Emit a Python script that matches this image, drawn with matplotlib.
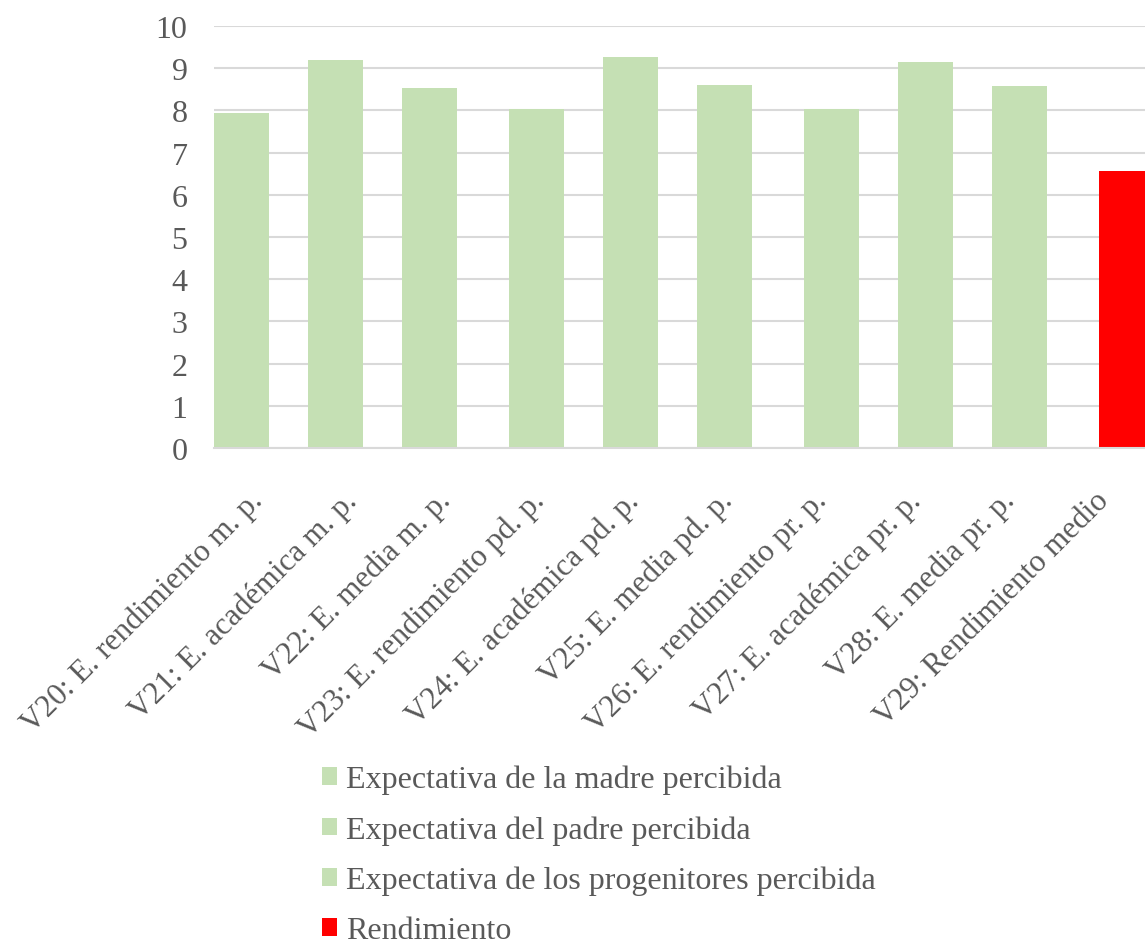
import matplotlib.pyplot as plt
import matplotlib.transforms as mtransforms
from matplotlib.patches import Patch

plt.rcParams['font.family'] = ['Liberation Serif', 'DejaVu Serif']

categorias = ['V20: E. rendimiento m. p.', 'V21: E. académica m. p.', 'V22: E. media m. p.',
              'V23: E. rendimiento pd. p.', 'V24: E. académica pd. p.', 'V25: E. media pd. p.',
              'V26: E. rendimiento pr. p.', 'V27: E. académica pr. p.', 'V28: E. media pr. p.',
              'V29: Rendimiento medio']
series = ['Expectativa de la madre percibida', 'Expectativa del padre percibida',
          'Expectativa de los progenitores percibida', 'Rendimiento']
# valor de cada categoria y la serie a la que pertenece
valores = [7.94, 9.20, 8.54, 8.04, 9.27, 8.61, 8.04, 9.15, 8.58, 6.57]
serie_de = [0, 0, 0, 1, 1, 1, 2, 2, 2, 3]
colores = ['#c5e0b4', '#c5e0b4', '#c5e0b4', '#ff0000']

gris = '#595959'
fig = plt.figure(figsize=(11.45, 9.45), dpi=100)
# el area de dibujo se sale un poco por la derecha
ax = fig.add_axes([214 / 1145, 496 / 945, 940 / 1145, 422 / 945])

ancho = 55 / 94
paso = 13 / 94
for i, (v, s) in enumerate(zip(valores, serie_de)):
    ax.bar(i + (s - 1.5) * paso, v, width=ancho, color=colores[s], zorder=2)

ax.set_xlim(-0.5, len(categorias) - 0.5)
ax.set_ylim(0, 10)
ax.set_yticks(range(0, 11))
ax.yaxis.grid(True, color='#d9d9d9', linewidth=1.5, zorder=0)
for lado in ['top', 'right', 'left']:
    ax.spines[lado].set_visible(False)
ax.spines['bottom'].set_color('#d9d9d9')
ax.spines['bottom'].set_linewidth(1.5)
ax.tick_params(axis='y', length=0, pad=19, labelsize=23, labelcolor=gris)
ax.tick_params(axis='x', length=0, pad=27)
ax.set_xticks(range(len(categorias)))
ax.set_xticklabels(categorias, rotation=45, ha='right', va='top', rotation_mode='anchor',
                   fontsize=22.5, color=gris)
desplaza = mtransforms.ScaledTranslation(-0.13, 0, fig.dpi_scale_trans)
for etiqueta in ax.get_xticklabels():
    etiqueta.set_transform(etiqueta.get_transform() + desplaza)

handles = [Patch(facecolor=c, edgecolor='none') for c in colores]
fig.legend(handles, series, loc='upper left', bbox_to_anchor=(293 / 1145, 1 - 737 / 945),
           frameon=False, fontsize=23, labelcolor=gris, handlelength=0.47, handleheight=0.47,
           handletextpad=0.28, labelspacing=0.66)

fig.savefig('out.png', dpi=100)
